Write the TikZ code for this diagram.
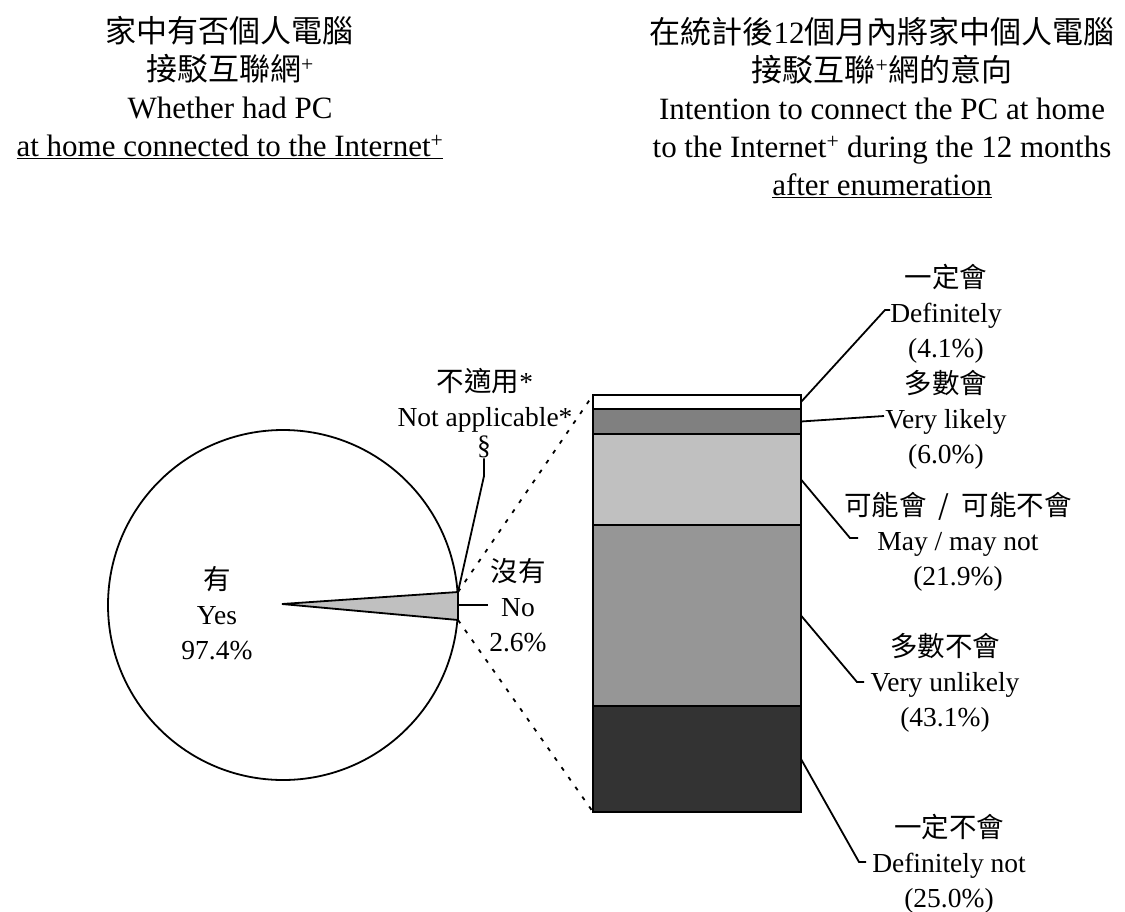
\documentclass[tikz,border=0pt]{standalone}
\usepackage{fontspec}
\setmainfont{Liberation Serif}
\newfontfamily\cjk{Noto Sans CJK TC}
\begin{document}
\begin{tikzpicture}[x=1pt,y=-1pt]
\tikzset{
  lbl/.style={align=center, font=\fontsize{27.5}{35}\selectfont, inner sep=0pt},
  ttl/.style={align=center, font=\fontsize{31}{38}\selectfont, inner sep=0pt},
  ldr/.style={line width=1.8pt},
  dotline/.style={line width=1.8pt, dash pattern=on 4pt off 8pt},
  seg/.style={draw, line width=2pt, inner sep=0pt, outer sep=0pt, minimum width=208pt, anchor=north west},
}
\definecolor{cA}{HTML}{808080}
\definecolor{cB}{HTML}{C0C0C0}
\definecolor{cC}{HTML}{969696}
\definecolor{cD}{HTML}{333333}
\useasboundingbox (0,0) rectangle (1125,911);

% titles
\node[ttl] (titleL) at (230,88) {{\cjk 家中有否個人電腦}\\{\cjk 接駁互聯網}\textsuperscript{+}\\Whether had PC\\\underline{at home connected to the Internet\textsuperscript{+}}};
\node[ttl] (titleR) at (882,108) {{\cjk 在統計後}12{\cjk 個月內將家中個人電腦}\\{\cjk 接駁互聯}\textsuperscript{+}{\cjk 網的意向}\\Intention to connect the PC at home\\to the Internet\textsuperscript{+} during the 12 months\\\underline{after enumeration}};

% pie
\node[circle, draw, line width=1.8pt, minimum size=350pt, inner sep=0pt] (pie) at (283,605) {};
\coordinate (apex) at (282,604);
\coordinate (wu) at (458,592);
\coordinate (wl) at (458,620);
\filldraw[fill=cB, line width=1.8pt, line join=miter] (apex) -- (wu) -- (wl) -- cycle;

% bar
\node[seg, fill=white, minimum height=14pt] (s1) at (593,395) {};
\node[seg, fill=cA, minimum height=25pt] (s2) at (593,409) {};
\node[seg, fill=cB, minimum height=91pt] (s3) at (593,434) {};
\node[seg, fill=cC, minimum height=181pt] (s4) at (593,525) {};
\node[seg, fill=cD, minimum height=106pt] (s5) at (593,706) {};

% dotted connectors
\draw[dotline] (wu) -- (s1.north west);
\draw[dotline] (wl) -- (s5.south west);

% pie labels
\node[lbl] (yes) at (217,613) {{\cjk 有}\\Yes\\97.4\%};
\node[lbl] (na) at (485,400) {{\cjk 不適用}*\\Not applicable*};
\node[lbl] (sect) at (484,447) {\S};
\node[lbl] (no) at (518,605) {{\cjk 沒有}\\No\\2.6\%};

\coordinate (kS) at (484,476);
\coordinate (kN) at (488,605);
\draw[ldr] (wu) -- (kS) -- (sect.south);
\draw[ldr] (459,605) -- (kN);

% bar labels
\node[lbl] (def) at (946,314) {{\cjk 一定會}\\Definitely\\(4.1\%)};
\node[lbl] (vl) at (946,420) {{\cjk 多數會}\\Very likely\\(6.0\%)};
\node[lbl] (may) at (958,542) {{\cjk 可能會\ \ /\ \ 可能不會}\\May / may not\\(21.9\%)};
\node[lbl] (vu) at (945,683) {{\cjk 多數不會}\\Very unlikely\\(43.1\%)};
\node[lbl] (dn) at (949,864) {{\cjk 一定不會}\\Definitely not\\(25.0\%)};

\coordinate (k1a) at (885,310); \coordinate (k1b) at (890,310);
\coordinate (k2a) at (884,416);
\coordinate (k3a) at (850,538); \coordinate (k3b) at (858,538);
\coordinate (k4a) at (857,682); \coordinate (k4b) at (864,682);
\coordinate (k5a) at (859,862); \coordinate (k5b) at (866,862);

\draw[ldr] (s1.east) -- (k1a) -- (k1b);
\draw[ldr] (s2.east) -- (k2a);
\draw[ldr] (s3.east) -- (k3a) -- (k3b);
\draw[ldr] (s4.east) -- (k4a) -- (k4b);
\draw[ldr] (s5.east) -- (k5a) -- (k5b);
\end{tikzpicture}
\end{document}
